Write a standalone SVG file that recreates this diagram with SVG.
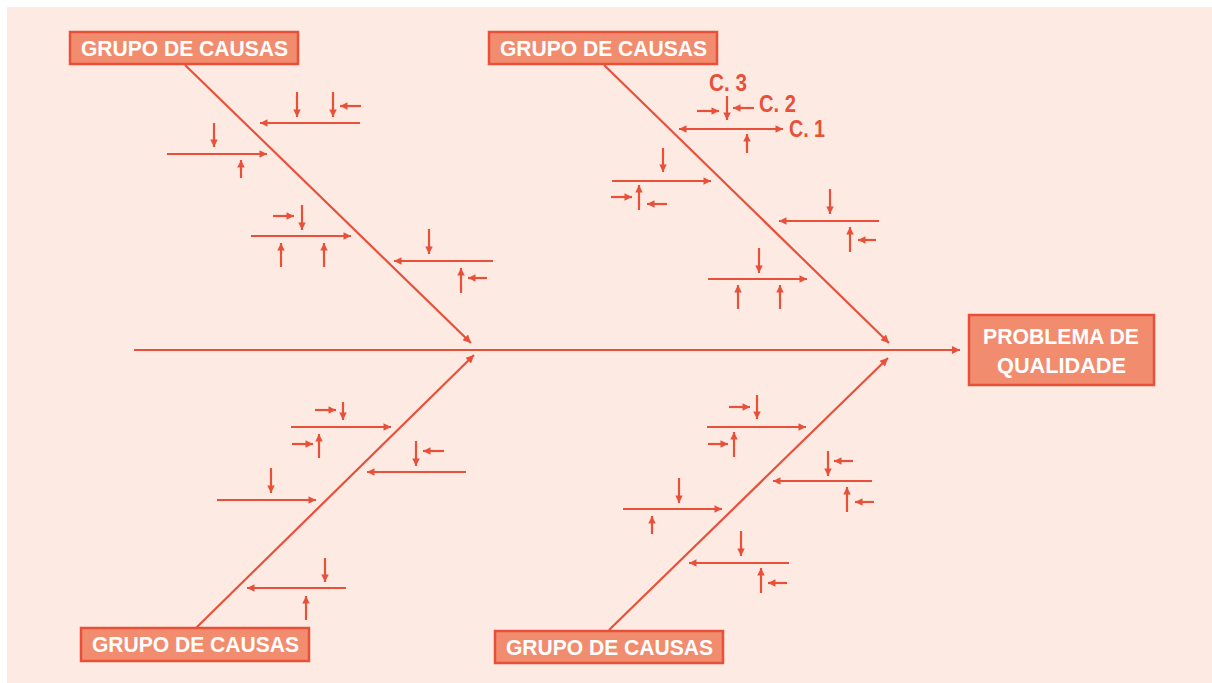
<svg xmlns="http://www.w3.org/2000/svg" width="1212" height="683" viewBox="0 0 1212 683">
<style>
.bg{fill:#fdebe3}
.box{fill:#f28c6e;stroke:#e8503a;stroke-width:2.5}
.bt{fill:#ffffff;font-family:"Liberation Sans",Arial,sans-serif;font-weight:bold;font-size:22px}
.ct{fill:#e8503a;font-family:"Liberation Sans",Arial,sans-serif;font-weight:bold;font-size:23px}
.a{stroke:#e8503a;stroke-width:2.2;fill:none;marker-end:url(#ah)}
.b{stroke:#e8503a;stroke-width:2.2;fill:none;marker-end:url(#bh)}
</style>
<defs>
<marker id="ah" viewBox="0 0 10 10" refX="10" refY="5" markerWidth="8" markerHeight="7.5" markerUnits="userSpaceOnUse" orient="auto-start-reverse">
<path d="M0,0 L10,5 L0,10 z" fill="#e8503a"/>
</marker>
<marker id="bh" viewBox="0 0 10 10" refX="10" refY="5" markerWidth="10" markerHeight="8" markerUnits="userSpaceOnUse" orient="auto">
<path d="M0,0 L10,5 L0,10 z" fill="#e8503a"/>
</marker>
</defs>
<rect class="bg" x="7" y="7" width="1205" height="676"/>
<g id="connectors">
<g id="spine-bones">
<line class="b" x1="134" y1="350" x2="960" y2="350"/>
<line class="b" x1="185" y1="65" x2="471" y2="343"/>
<line class="b" x1="604" y1="65" x2="889" y2="343"/>
<line class="b" x1="196" y1="628" x2="474" y2="355"/>
<line class="b" x1="609" y1="630" x2="888" y2="358"/>
</g>
<g id="causes-top-left">
<line class="a" x1="360" y1="123" x2="260" y2="123"/>
<line class="a" x1="297" y1="92" x2="297" y2="117"/>
<line class="a" x1="333" y1="92" x2="333" y2="117"/>
<line class="a" x1="361" y1="106" x2="340" y2="106"/>
<line class="a" x1="167" y1="154" x2="267" y2="154"/>
<line class="a" x1="214" y1="123" x2="214" y2="147"/>
<line class="a" x1="241" y1="178" x2="241" y2="160"/>
<line class="a" x1="251" y1="236" x2="351" y2="236"/>
<line class="a" x1="273" y1="216" x2="294" y2="216"/>
<line class="a" x1="302" y1="205" x2="302" y2="230"/>
<line class="a" x1="281" y1="267" x2="281" y2="243"/>
<line class="a" x1="324" y1="267" x2="324" y2="243"/>
<line class="a" x1="493" y1="261" x2="394" y2="261"/>
<line class="a" x1="429" y1="229" x2="429" y2="254"/>
<line class="a" x1="461" y1="293" x2="461" y2="268"/>
<line class="a" x1="487" y1="278" x2="468" y2="278"/>
</g>
<g id="causes-top-right">
<line class="a" style="marker-start:url(#ah)" x1="679" y1="129" x2="783" y2="129"/>
<line class="a" x1="727" y1="96" x2="727" y2="120"/>
<line class="a" x1="697" y1="111" x2="719" y2="111"/>
<line class="a" x1="754" y1="108" x2="733" y2="108"/>
<line class="a" x1="747" y1="153" x2="747" y2="134"/>
<line class="a" x1="612" y1="181" x2="711" y2="181"/>
<line class="a" x1="663" y1="148" x2="663" y2="172"/>
<line class="a" x1="611" y1="197" x2="632" y2="197"/>
<line class="a" x1="639" y1="210" x2="639" y2="185"/>
<line class="a" x1="667" y1="204" x2="647" y2="204"/>
<line class="a" x1="879" y1="221" x2="779" y2="221"/>
<line class="a" x1="830" y1="189" x2="830" y2="214"/>
<line class="a" x1="850" y1="252" x2="850" y2="227"/>
<line class="a" x1="876" y1="240" x2="858" y2="240"/>
<line class="a" x1="708" y1="279" x2="807" y2="279"/>
<line class="a" x1="759" y1="248" x2="759" y2="273"/>
<line class="a" x1="738" y1="309" x2="738" y2="285"/>
<line class="a" x1="780" y1="309" x2="780" y2="285"/>
</g>
<g id="causes-bottom-left">
<line class="a" x1="291" y1="427" x2="391" y2="427"/>
<line class="a" x1="315" y1="410" x2="336" y2="410"/>
<line class="a" x1="343" y1="402" x2="343" y2="420"/>
<line class="a" x1="292" y1="444" x2="313" y2="444"/>
<line class="a" x1="319" y1="458" x2="319" y2="434"/>
<line class="a" x1="466" y1="472" x2="367" y2="472"/>
<line class="a" x1="416" y1="441" x2="416" y2="466"/>
<line class="a" x1="444" y1="451" x2="423" y2="451"/>
<line class="a" x1="217" y1="500" x2="316" y2="500"/>
<line class="a" x1="271" y1="468" x2="271" y2="493"/>
<line class="a" x1="346" y1="588" x2="247" y2="588"/>
<line class="a" x1="325" y1="558" x2="325" y2="582"/>
<line class="a" x1="306" y1="620" x2="306" y2="596"/>
</g>
<g id="causes-bottom-right">
<line class="a" x1="707" y1="427" x2="806" y2="427"/>
<line class="a" x1="729" y1="407" x2="750" y2="407"/>
<line class="a" x1="757" y1="395" x2="757" y2="419"/>
<line class="a" x1="708" y1="444" x2="728" y2="444"/>
<line class="a" x1="734" y1="457" x2="734" y2="432"/>
<line class="a" x1="872" y1="481" x2="773" y2="481"/>
<line class="a" x1="828" y1="451" x2="828" y2="476"/>
<line class="a" x1="853" y1="461" x2="834" y2="461"/>
<line class="a" x1="847" y1="512" x2="847" y2="487"/>
<line class="a" x1="874" y1="502" x2="855" y2="502"/>
<line class="a" x1="623" y1="509" x2="722" y2="509"/>
<line class="a" x1="679" y1="478" x2="679" y2="503"/>
<line class="a" x1="652" y1="534" x2="652" y2="516"/>
<line class="a" x1="789" y1="563" x2="689" y2="563"/>
<line class="a" x1="741" y1="531" x2="741" y2="556"/>
<line class="a" x1="761" y1="593" x2="761" y2="568"/>
<line class="a" x1="787" y1="583" x2="768" y2="583"/>
</g>
</g>
<g id="group-top-left">
<rect class="box" x="70" y="32" width="228" height="32"/>
<text class="bt" x="81" y="56" textLength="207" lengthAdjust="spacingAndGlyphs">GRUPO DE CAUSAS</text>
</g>
<g id="group-top-right">
<rect class="box" x="489" y="32" width="228" height="32"/>
<text class="bt" x="500" y="56" textLength="207" lengthAdjust="spacingAndGlyphs">GRUPO DE CAUSAS</text>
</g>
<g id="group-bottom-left">
<rect class="box" x="81" y="628" width="228" height="33"/>
<text class="bt" x="92" y="652" textLength="207" lengthAdjust="spacingAndGlyphs">GRUPO DE CAUSAS</text>
</g>
<g id="group-bottom-right">
<rect class="box" x="495" y="631" width="228" height="32"/>
<text class="bt" x="506" y="655" textLength="207" lengthAdjust="spacingAndGlyphs">GRUPO DE CAUSAS</text>
</g>
<g id="problem">
<rect class="box" x="969" y="315" width="185" height="70"/>
<text class="bt" x="983" y="344" textLength="156" lengthAdjust="spacingAndGlyphs">PROBLEMA DE</text>
<text class="bt" x="997" y="373" textLength="129" lengthAdjust="spacingAndGlyphs">QUALIDADE</text>
</g>
<g id="cause-labels">
<text class="ct" x="709" y="91" textLength="38" lengthAdjust="spacingAndGlyphs">C. 3</text>
<text class="ct" x="759" y="112" textLength="37" lengthAdjust="spacingAndGlyphs">C. 2</text>
<text class="ct" x="789" y="137" textLength="36" lengthAdjust="spacingAndGlyphs">C. 1</text>
</g>
</svg>
